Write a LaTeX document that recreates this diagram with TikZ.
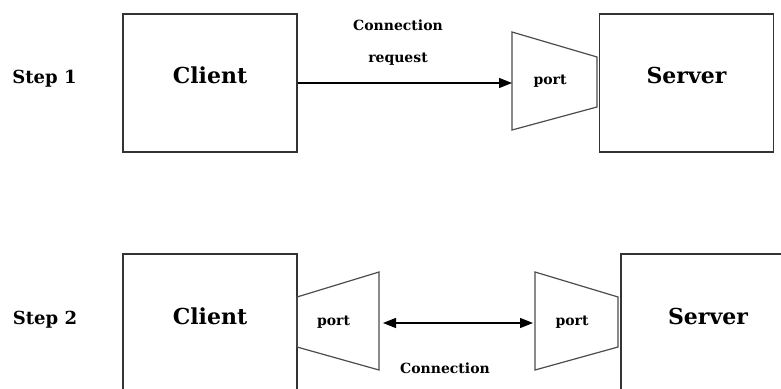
\documentclass[tikz,border=0pt]{standalone}
\usepackage{fontspec}
\setmainfont{DejaVu Serif}
\usetikzlibrary{arrows.meta}
\tikzset{
  box/.style={draw=black!80, line width=1.4pt, minimum width=174pt, inner sep=0pt,
    text height=8pt, text depth=8pt, font=\fontsize{22}{24}\selectfont\bfseries},
  steplbl/.style={anchor=base, inner sep=0pt, font=\fontsize{18}{20}\selectfont\bfseries},
  small/.style={anchor=base, inner sep=0pt, font=\fontsize{14}{16}\selectfont\bfseries},
  portshape/.style={draw=black!70, line width=1.2pt, line join=miter},
  conn/.style={line width=1.2pt, draw=black}
}
\begin{document}
\begin{tikzpicture}[x=1pt,y=-1pt]
\clip (0,0) rectangle (781,388);
\fill[white] (0,0) rectangle (781,388);

% ---- Step 1 ----
\node[steplbl] (step1) at (44.5,83) {Step 1};
\node[box, minimum height=138pt] (client1) at (210,83) {Client};
\node[box, minimum height=138pt] (server1) at (686.5,83) {Server};
\draw[portshape] (512,32) -- (597,57) -- (597,107) -- (512,130) -- cycle;
\coordinate (p1w) at (512,83);
\node[small] (port1) at (550,84) {port};
\node[small] (conreq1) at (398,30) {Connection};
\node[small] (conreq2) at (398,62) {request};
\draw[conn, -{Triangle[length=13pt,width=10pt]}] (client1.east) -- (p1w);

% ---- Step 2 ----
\node[steplbl] (step2) at (45,324) {Step 2};
\node[box, minimum height=140pt] (client2) at (210,324) {Client};
\node[box, minimum height=140pt] (server2) at (708,324) {Server};
\draw[portshape] (297,297) -- (379,272) -- (379,370) -- (297,347) -- cycle;
\draw[portshape] (535,272) -- (618,297) -- (618,347) -- (535,370) -- cycle;
\coordinate (p2e) at (379,323);
\coordinate (p3w) at (535,323);
\node[small] (port2) at (333.5,325) {port};
\node[small] (port3) at (572,325) {port};
\node[small] (con2) at (445,373) {Connection};
\draw[conn, {Triangle[length=13pt,width=10pt]}-{Triangle[length=13pt,width=10pt]}, shorten <=4pt, shorten >=2pt] (p2e) -- (p3w);
\end{tikzpicture}
\end{document}
